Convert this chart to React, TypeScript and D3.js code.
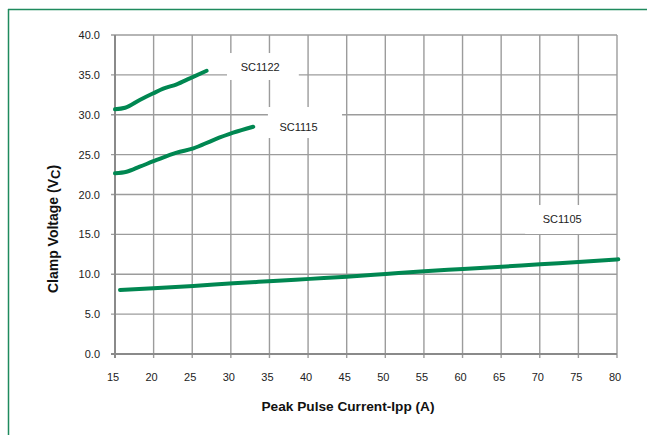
import { useEffect, useRef } from "react";
import * as d3 from "d3";

const xTicks = [15, 20, 25, 30, 35, 40, 45, 50, 55, 60, 65, 70, 75, 80];
const yTicks = [0, 5, 10, 15, 20, 25, 30, 35, 40];

const sc1122 = [
  [15, 30.68], [16.3, 30.88], [18.2, 31.85], [19.96, 32.69], [21.25, 33.27],
  [22.99, 33.82], [24.7, 34.57], [26.87, 35.52]
];
const sc1115 = [
  [15, 22.66], [16.5, 22.86], [18.2, 23.49], [20.4, 24.33], [22.99, 25.24],
  [25.14, 25.79], [27.73, 26.83], [30.3, 27.75], [32.9, 28.5]
];
const sc1105 = [
  [15.65, 8.03], [19.96, 8.24], [25.14, 8.53], [30.32, 8.86], [35.5, 9.15],
  [40.25, 9.42], [45.0, 9.68], [50.05, 10.03], [55.05, 10.38], [60.06, 10.66],
  [65.07, 10.95], [70.03, 11.25], [74.99, 11.54], [80.17, 11.87]
];

// label boxes in data units: box = [x0, x1, yTop, yBottom], at = text anchor
const labels = [
  { name: "SC1122", box: [29.5, 38.8, 37.74, 34.36], at: [33.8, 35.5] },
  { name: "SC1115", box: [34.8, 44.4, 30.97, 27.08], at: [38.76, 27.96] },
  { name: "SC1105", box: [68.1, 77.8, 18.68, 15.05], at: [72.9, 16.46] }
];

export default function App() {
  const svgRef = useRef<SVGSVGElement>(null);

  useEffect(() => {
    const svg = d3.select(svgRef.current);
    svg.selectAll("*").remove();
    const width = 647;
    const height = 435;
    const margin = { top: 35, right: 30, bottom: 81, left: 115 };
    const font = "'Liberation Sans', Arial, sans-serif";

    const x = d3.scaleLinear().domain([15, 80]).range([margin.left, width - margin.right]);
    const y = d3.scaleLinear().domain([0, 40]).range([height - margin.bottom, margin.top]);

    // frame
    svg.append("line").attr("x1", 8).attr("x2", width).attr("y1", 9.5).attr("y2", 9.5)
      .attr("stroke", "#1f8a5e").attr("stroke-width", 1.5);
    svg.append("line").attr("x1", 8.5).attr("x2", 8.5).attr("y1", 9).attr("y2", height)
      .attr("stroke", "#1f8a5e").attr("stroke-width", 1.5);

    const grid = svg.append("g").attr("stroke", "#9c9c9c").attr("stroke-width", 1.4);
    grid.selectAll("line.v").data(xTicks).join("line").attr("class", "v")
      .attr("x1", (d) => x(d)).attr("x2", (d) => x(d))
      .attr("y1", y(40)).attr("y2", y(0) + 4);
    grid.selectAll("line.h").data(yTicks).join("line").attr("class", "h")
      .attr("x1", x(15) - 4).attr("x2", x(80))
      .attr("y1", (d) => y(d)).attr("y2", (d) => y(d));

    // axis lines
    svg.append("line").attr("x1", x(15) - 4).attr("x2", x(80)).attr("y1", y(0)).attr("y2", y(0))
      .attr("stroke", "#8a8a8a").attr("stroke-width", 2);
    svg.append("line").attr("x1", x(15)).attr("x2", x(15)).attr("y1", y(40)).attr("y2", y(0) + 4)
      .attr("stroke", "#8a8a8a").attr("stroke-width", 2);

    // label boxes hide grid
    svg.append("g").selectAll("rect").data(labels).join("rect")
      .attr("x", (d) => x(d.box[0])).attr("y", (d) => y(d.box[2]))
      .attr("width", (d) => x(d.box[1]) - x(d.box[0]))
      .attr("height", (d) => y(d.box[3]) - y(d.box[2]))
      .attr("fill", "#fff");

    svg.append("g").selectAll("text").data(labels).join("text")
      .attr("x", (d) => x(d.at[0])).attr("y", (d) => y(d.at[1]))
      .attr("text-anchor", "middle").attr("font-family", font).attr("font-size", 11)
      .attr("fill", "#222").text((d) => d.name);

    const line = d3.line<number[]>().x((d) => x(d[0])).y((d) => y(d[1])).curve(d3.curveMonotoneX);
    svg.append("g").attr("fill", "none").attr("stroke", "#008751").attr("stroke-width", 4)
      .attr("stroke-linecap", "round")
      .selectAll("path").data([sc1122, sc1115, sc1105]).join("path")
      .attr("d", (d) => line(d));

    // tick labels
    svg.append("g").selectAll("text").data(yTicks).join("text")
      .attr("x", x(15) - 15).attr("y", (d) => y(d) + 4)
      .attr("text-anchor", "end").attr("font-family", font).attr("font-size", 11).attr("fill", "#222")
      .text((d) => d3.format(".1f")(d));
    svg.append("g").selectAll("text").data(xTicks).join("text")
      .attr("x", (d) => x(d) - 2).attr("y", y(0) + 27)
      .attr("text-anchor", "middle").attr("font-family", font).attr("font-size", 11).attr("fill", "#222")
      .text((d) => d);

    // axis titles
    svg.append("text").attr("x", 348).attr("y", 411).attr("text-anchor", "middle")
      .attr("font-family", font).attr("font-size", 13).attr("font-weight", "bold").attr("fill", "#111")
      .attr("textLength", 173).attr("lengthAdjust", "spacingAndGlyphs")
      .text("Peak Pulse Current-Ipp (A)");

    const yt = svg.append("text").attr("transform", "translate(58,229) rotate(-90)")
      .attr("text-anchor", "middle").attr("font-family", font).attr("font-size", 14)
      .attr("font-weight", "bold").attr("fill", "#111");
    yt.append("tspan").text("Clamp Voltage (V");
    yt.append("tspan").attr("font-size", 13).attr("dy", 1.5).text("C");
    yt.append("tspan").attr("dy", -1.5).text(")");
  }, []);

  return (
    <svg ref={svgRef} width={647} height={435}
      style={{ position: "absolute", left: 0, top: 0, background: "#fff" }} />
  );
}
